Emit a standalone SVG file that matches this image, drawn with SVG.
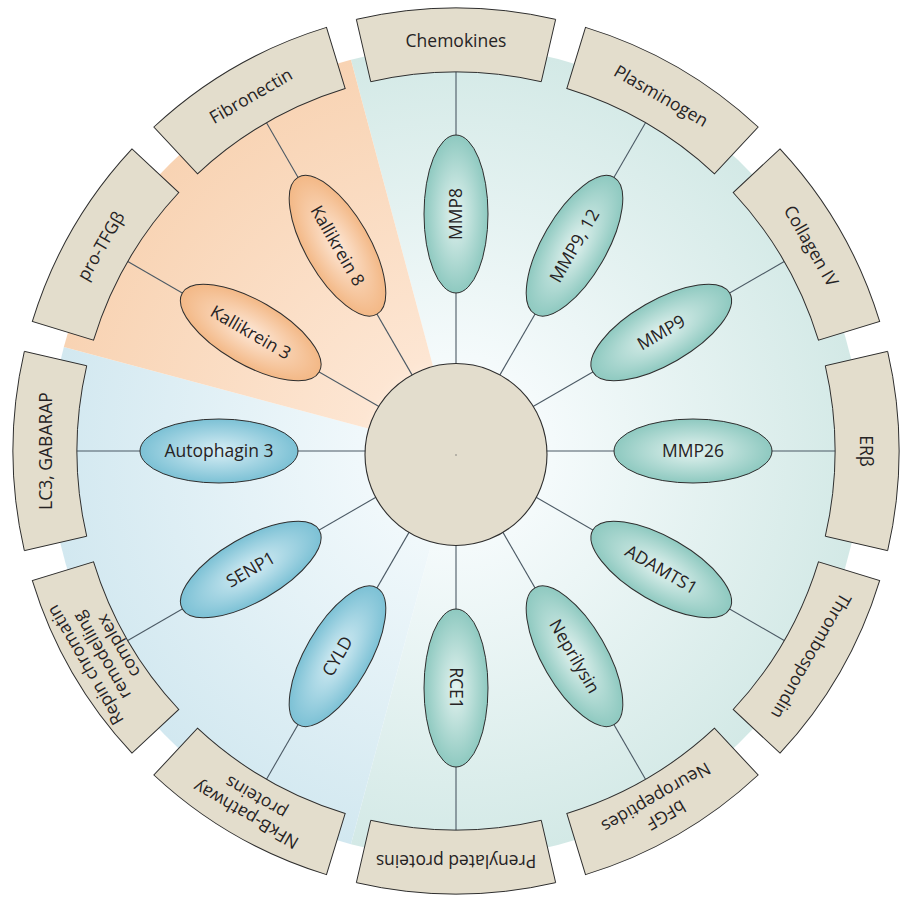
<svg xmlns="http://www.w3.org/2000/svg" width="907" height="898" viewBox="0 0 907 898">
<defs>
<radialGradient id="secTeal" gradientUnits="userSpaceOnUse" cx="456" cy="452" r="406">
<stop offset="0" stop-color="#ffffff"/><stop offset="0.24" stop-color="#f4fafb"/><stop offset="1" stop-color="#d3e9e6"/>
</radialGradient>
<radialGradient id="secBlue" gradientUnits="userSpaceOnUse" cx="456" cy="452" r="406">
<stop offset="0" stop-color="#ffffff"/><stop offset="0.24" stop-color="#f0f8fb"/><stop offset="1" stop-color="#d2e8f0"/>
</radialGradient>
<radialGradient id="secOrange" gradientUnits="userSpaceOnUse" cx="456" cy="452" r="406">
<stop offset="0" stop-color="#ffffff"/><stop offset="0.24" stop-color="#fde6d3"/><stop offset="1" stop-color="#f8d3b3"/>
</radialGradient>
<radialGradient id="elTeal" cx="50%" cy="50%" r="50%">
<stop offset="0" stop-color="#e4f3f0"/><stop offset="1" stop-color="#8ec9c0"/>
</radialGradient>
<radialGradient id="elBlue" cx="50%" cy="50%" r="50%">
<stop offset="0" stop-color="#d8eef5"/><stop offset="1" stop-color="#7cc1d5"/>
</radialGradient>
<radialGradient id="elOrange" cx="50%" cy="50%" r="50%">
<stop offset="0" stop-color="#fde8d8"/><stop offset="1" stop-color="#f3b886"/>
</radialGradient>
</defs>
<style>
.box{fill:#e3ddcc;stroke:#2e2e2e;stroke-width:1}
.node{stroke:#2e2e2e;stroke-width:1}
.spoke{stroke:#4b5964;stroke-width:1.1;fill:none}
text{font-family:"Open Sans","Noto Sans","DejaVu Sans",sans-serif;font-size:17.5px;fill:#262324;text-anchor:middle}
</style>
<rect width="907" height="898" fill="#ffffff"/>
<g id="sectors">
<path d="M456,452 L350.92,59.83 A406,406 0 1 1 350.92,844.17 Z" fill="url(#secTeal)"/>
<path d="M456,452 L350.92,844.17 A406,406 0 0 1 63.83,346.92 Z" fill="url(#secBlue)"/>
<path d="M456,452 L63.83,346.92 A406,406 0 0 1 350.92,59.83 Z" fill="url(#secOrange)"/>
</g>
<g id="connectors" class="spoke">
<line x1="456" y1="366" x2="456" y2="72"/>
<line x1="498.5" y1="377.39" x2="645.5" y2="122.78"/>
<line x1="529.61" y1="408.5" x2="784.22" y2="261.5"/>
<line x1="541" y1="451" x2="835" y2="451"/>
<line x1="529.61" y1="493.5" x2="784.22" y2="640.5"/>
<line x1="498.5" y1="524.61" x2="645.5" y2="779.22"/>
<line x1="456" y1="536" x2="456" y2="830"/>
<line x1="413.5" y1="524.61" x2="266.5" y2="779.22"/>
<line x1="382.39" y1="493.5" x2="127.78" y2="640.5"/>
<line x1="371" y1="451" x2="77" y2="451"/>
<line x1="382.39" y1="408.5" x2="127.78" y2="261.5"/>
<line x1="413.5" y1="377.39" x2="266.5" y2="122.78"/>
</g>
<g id="center">
<circle cx="456" cy="454.5" r="91" fill="#e3ddcd" stroke="#2e2e2e" stroke-width="1.1"/>
<circle cx="456" cy="455" r="0.7" fill="#666"/>
</g>
<g id="box-chemokines" transform="rotate(0 456 451)">
<path class="box" d="M356.35,19.35 A443,443 0 0 1 555.65,19.35 L541.26,81.71 A379,379 0 0 0 370.74,81.71 Z"/>
<text x="456" y="47">Chemokines</text>
</g>
<g id="box-plasminogen" transform="rotate(30 456 451)">
<path class="box" d="M356.35,19.35 A443,443 0 0 1 555.65,19.35 L541.26,81.71 A379,379 0 0 0 370.74,81.71 Z"/>
<text x="456" y="47">Plasminogen</text>
</g>
<g id="box-collagen" transform="rotate(60 456 451)">
<path class="box" d="M356.35,19.35 A443,443 0 0 1 555.65,19.35 L541.26,81.71 A379,379 0 0 0 370.74,81.71 Z"/>
<text x="456" y="47">Collagen IV</text>
</g>
<g id="box-erb" transform="rotate(90 456 451)">
<path class="box" d="M356.35,19.35 A443,443 0 0 1 555.65,19.35 L541.26,81.71 A379,379 0 0 0 370.74,81.71 Z"/>
<text x="456" y="47">ERβ</text>
</g>
<g id="box-thrombospondin" transform="rotate(120 456 451)">
<path class="box" d="M356.35,19.35 A443,443 0 0 1 555.65,19.35 L541.26,81.71 A379,379 0 0 0 370.74,81.71 Z"/>
<text x="456" y="47">Thrombospondin</text>
</g>
<g id="box-bfgf" transform="rotate(150 456 451)">
<path class="box" d="M356.35,19.35 A443,443 0 0 1 555.65,19.35 L541.26,81.71 A379,379 0 0 0 370.74,81.71 Z"/>
<text x="456" y="37">bFGF</text>
<text x="456" y="57">Neuropeptides</text>
</g>
<g id="box-prenylated" transform="rotate(180 456 451)">
<path class="box" d="M356.35,19.35 A443,443 0 0 1 555.65,19.35 L541.26,81.71 A379,379 0 0 0 370.74,81.71 Z"/>
<text x="456" y="47">Prenylated proteins</text>
</g>
<g id="box-nfkb" transform="rotate(210 456 451)">
<path class="box" d="M356.35,19.35 A443,443 0 0 1 555.65,19.35 L541.26,81.71 A379,379 0 0 0 370.74,81.71 Z"/>
<text x="456" y="37">NFκB-pathway</text>
<text x="456" y="57">proteins</text>
</g>
<g id="box-repin" transform="rotate(240 456 451)">
<path class="box" d="M356.35,19.35 A443,443 0 0 1 555.65,19.35 L541.26,81.71 A379,379 0 0 0 370.74,81.71 Z"/>
<text x="456" y="29">Repin chromatin</text>
<text x="456" y="48">remodelling</text>
<text x="456" y="67">complex</text>
</g>
<g id="box-lc3" transform="rotate(270 456 451)">
<path class="box" d="M356.35,19.35 A443,443 0 0 1 555.65,19.35 L541.26,81.71 A379,379 0 0 0 370.74,81.71 Z"/>
<text x="456" y="47">LC3, GABARAP</text>
</g>
<g id="box-protfgb" transform="rotate(300 456 451)">
<path class="box" d="M356.35,19.35 A443,443 0 0 1 555.65,19.35 L541.26,81.71 A379,379 0 0 0 370.74,81.71 Z"/>
<text x="456" y="47">pro-TFGβ</text>
</g>
<g id="box-fibronectin" transform="rotate(330 456 451)">
<path class="box" d="M356.35,19.35 A443,443 0 0 1 555.65,19.35 L541.26,81.71 A379,379 0 0 0 370.74,81.71 Z"/>
<text x="456" y="47">Fibronectin</text>
</g>
<g id="node-mmp8" transform="rotate(0 456 451)">
<ellipse class="node" cx="456" cy="214" rx="32" ry="79" fill="url(#elTeal)"/>
<text x="456" y="220" transform="rotate(-90 456 214)">MMP8</text>
</g>
<g id="node-mmp9-12" transform="rotate(30 456 451)">
<ellipse class="node" cx="456" cy="214" rx="32" ry="79" fill="url(#elTeal)"/>
<text x="456" y="220" transform="rotate(-90 456 214)">MMP9, 12</text>
</g>
<g id="node-mmp9" transform="rotate(60 456 451)">
<ellipse class="node" cx="456" cy="214" rx="32" ry="79" fill="url(#elTeal)"/>
<text x="456" y="220" transform="rotate(-90 456 214)">MMP9</text>
</g>
<g id="node-mmp26" transform="rotate(90 456 451)">
<ellipse class="node" cx="456" cy="214" rx="32" ry="79" fill="url(#elTeal)"/>
<text x="456" y="220" transform="rotate(-90 456 214)">MMP26</text>
</g>
<g id="node-adamts1" transform="rotate(120 456 451)">
<ellipse class="node" cx="456" cy="214" rx="32" ry="79" fill="url(#elTeal)"/>
<text x="456" y="220" transform="rotate(-90 456 214)">ADAMTS1</text>
</g>
<g id="node-neprilysin" transform="rotate(150 456 451)">
<ellipse class="node" cx="456" cy="214" rx="32" ry="79" fill="url(#elTeal)"/>
<text x="456" y="220" transform="rotate(-90 456 214)">Neprilysin</text>
</g>
<g id="node-rce1" transform="rotate(180 456 451)">
<ellipse class="node" cx="456" cy="214" rx="32" ry="79" fill="url(#elTeal)"/>
<text x="456" y="220" transform="rotate(-90 456 214)">RCE1</text>
</g>
<g id="node-cyld" transform="rotate(210 456 451)">
<ellipse class="node" cx="456" cy="214" rx="32" ry="79" fill="url(#elBlue)"/>
<text x="456" y="220" transform="rotate(90 456 214)">CYLD</text>
</g>
<g id="node-senp1" transform="rotate(240 456 451)">
<ellipse class="node" cx="456" cy="214" rx="32" ry="79" fill="url(#elBlue)"/>
<text x="456" y="220" transform="rotate(90 456 214)">SENP1</text>
</g>
<g id="node-autophagin3" transform="rotate(270 456 451)">
<ellipse class="node" cx="456" cy="214" rx="32" ry="79" fill="url(#elBlue)"/>
<text x="456" y="220" transform="rotate(90 456 214)">Autophagin 3</text>
</g>
<g id="node-kallikrein3" transform="rotate(300 456 451)">
<ellipse class="node" cx="456" cy="214" rx="32" ry="79" fill="url(#elOrange)"/>
<text x="456" y="220" transform="rotate(90 456 214)">Kallikrein 3</text>
</g>
<g id="node-kallikrein8" transform="rotate(330 456 451)">
<ellipse class="node" cx="456" cy="214" rx="32" ry="79" fill="url(#elOrange)"/>
<text x="456" y="220" transform="rotate(90 456 214)">Kallikrein 8</text>
</g>
</svg>
